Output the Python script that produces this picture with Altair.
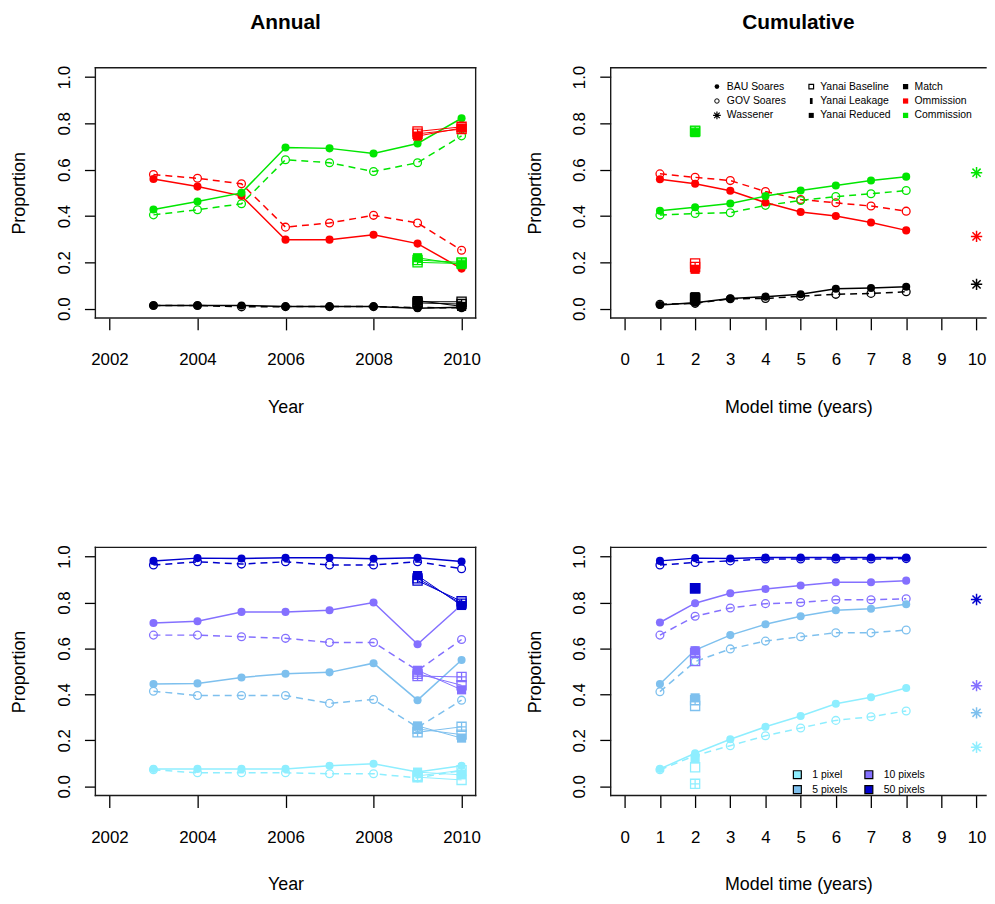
import altair as alt
import pandas as pd

FONT = "Liberation Sans"

# ---------------- data ----------------
years = [2003, 2004, 2005, 2006, 2007, 2008, 2009, 2010]
model_years = [1, 2, 3, 4, 5, 6, 7, 8]
yanai_annual_x = [2009, 2010]
yanai_cum_x = [2]
wassener_x = 10

acc_classes = ["Match", "Ommission", "Commission"]
acc_colors = ["#000000", "#FF0000", "#00E600"]
px_classes = ["1 pixel", "5 pixels", "10 pixels", "50 pixels"]
px_colors = ["#8EEEFF", "#7EC0EE", "#8470FF", "#0000CD"]
yanai_variants = ["Yanai Baseline", "Yanai Leakage", "Yanai Reduced"]

# Annual, accuracy classes (BAU Soares solid/filled, GOV Soares dashed/open)
ann_bau_match = [0.014, 0.014, 0.014, 0.009, 0.009, 0.009, 0.002, 0.006]
ann_gov_match = [0.014, 0.014, 0.008, 0.009, 0.009, 0.009, 0.005, 0.004]
ann_bau_omission = [0.560, 0.527, 0.487, 0.298, 0.298, 0.319, 0.281, 0.173]
ann_gov_omission = [0.579, 0.563, 0.539, 0.352, 0.370, 0.403, 0.370, 0.252]
ann_bau_commission = [0.428, 0.463, 0.500, 0.696, 0.692, 0.670, 0.713, 0.822]
ann_gov_commission = [0.405, 0.427, 0.453, 0.643, 0.630, 0.592, 0.630, 0.746]
# Yanai (Baseline, Leakage, Reduced) at 2009, 2010
ann_yanai_match = [[0.030, 0.030], [0.035, 0.010], [0.025, 0.020]]
ann_yanai_omission = [[0.765, 0.785], [0.745, 0.780], [0.755, 0.775]]
ann_yanai_commission = [[0.200, 0.195], [0.220, 0.190], [0.210, 0.200]]

# Cumulative, accuracy classes
cum_bau_match = [0.016, 0.026, 0.044, 0.052, 0.062, 0.086, 0.089, 0.095]
cum_gov_match = [0.019, 0.023, 0.043, 0.044, 0.054, 0.062, 0.066, 0.073]
cum_bau_omission = [0.559, 0.539, 0.509, 0.458, 0.417, 0.400, 0.372, 0.338]
cum_gov_omission = [0.582, 0.567, 0.553, 0.506, 0.471, 0.457, 0.443, 0.421]
cum_bau_commission = [0.423, 0.438, 0.454, 0.486, 0.510, 0.532, 0.553, 0.570]
cum_gov_commission = [0.404, 0.411, 0.414, 0.446, 0.467, 0.484, 0.496, 0.510]
cum_yanai_match = [0.045, 0.052, 0.040]
cum_yanai_omission = [0.195, 0.170, 0.180]
cum_yanai_commission = [0.768, 0.760, 0.765]
cum_wassener_acc = [0.105, 0.312, 0.587]

# Annual, pixel tolerance
ann_bau_px1 = [0.076, 0.076, 0.076, 0.076, 0.090, 0.098, 0.062, 0.090]
ann_gov_px1 = [0.072, 0.059, 0.059, 0.059, 0.055, 0.055, 0.037, 0.069]
ann_bau_px5 = [0.445, 0.448, 0.474, 0.490, 0.496, 0.536, 0.375, 0.550]
ann_gov_px5 = [0.414, 0.395, 0.395, 0.395, 0.361, 0.378, 0.256, 0.375]
ann_bau_px10 = [0.711, 0.718, 0.759, 0.759, 0.766, 0.800, 0.618, 0.790]
ann_gov_px10 = [0.658, 0.658, 0.651, 0.644, 0.626, 0.626, 0.504, 0.639]
ann_bau_px50 = [0.981, 0.993, 0.991, 0.995, 0.995, 0.990, 0.995, 0.978]
ann_gov_px50 = [0.963, 0.977, 0.967, 0.977, 0.963, 0.963, 0.977, 0.947]
ann_yanai_px1 = [[0.040, 0.028], [0.062, 0.050], [0.045, 0.070]]
ann_yanai_px5 = [[0.250, 0.225], [0.263, 0.210], [0.235, 0.259]]
ann_yanai_px10 = [[0.490, 0.440], [0.505, 0.420], [0.480, 0.476]]
ann_yanai_px50 = [[0.895, 0.805], [0.917, 0.787], [0.905, 0.795]]

# Cumulative, pixel tolerance
cum_bau_px1 = [0.076, 0.144, 0.205, 0.259, 0.306, 0.359, 0.388, 0.428]
cum_gov_px1 = [0.072, 0.134, 0.177, 0.220, 0.254, 0.287, 0.303, 0.328]
cum_bau_px5 = [0.445, 0.593, 0.658, 0.705, 0.740, 0.766, 0.773, 0.792]
cum_gov_px5 = [0.412, 0.543, 0.598, 0.632, 0.651, 0.668, 0.668, 0.680]
cum_bau_px10 = [0.713, 0.797, 0.840, 0.859, 0.874, 0.888, 0.888, 0.895]
cum_gov_px10 = [0.658, 0.740, 0.776, 0.795, 0.800, 0.812, 0.812, 0.816]
cum_bau_px50 = [0.981, 0.993, 0.991, 0.996, 0.996, 0.996, 0.996, 0.996]
cum_gov_px50 = [0.963, 0.974, 0.981, 0.989, 0.989, 0.989, 0.989, 0.991]
cum_yanai_px1 = [0.083, 0.119, 0.011]
cum_yanai_px5 = [0.350, 0.385, 0.375]
cum_yanai_px10 = [0.545, 0.590, 0.580]
cum_yanai_px50 = [0.862, 0.862, 0.862]
cum_wassener_px = [0.170, 0.320, 0.438, 0.813]

y_ticks = [0.0, 0.2, 0.4, 0.6, 0.8, 1.0]
year_ticks = [2002, 2004, 2006, 2008, 2010]
time_ticks = [0, 1, 2, 3, 4, 5, 6, 7, 8, 9, 10]

# ---------------- helpers ----------------
SQUARE_PLUS = "M-1,-1L1,-1L1,1L-1,1Z M0,-1L0,1 M-1,0L1,0"
ASTERISK = "M0,-1L0,1 M-1,0L1,0 M-0.72,-0.72L0.72,0.72 M-0.72,0.72L0.72,-0.72"
THIN_RECT = "M-0.45,-1L0.45,-1L0.45,1L-0.45,1Z"
variant_style = {
    "Yanai Baseline": dict(shape="square", filled=False),
    "Yanai Leakage": dict(shape="square", filled=True),
    "Yanai Reduced": dict(shape=SQUARE_PLUS, filled=False),
}
one = pd.DataFrame({"k": [0]})


def series_frame(xs, classes, lists):
    rows = []
    for c, vals in zip(classes, lists):
        for x, v in zip(xs, vals):
            rows.append({"x": x, "y": v, "cls": c})
    return pd.DataFrame(rows)


def yanai_frame(xs, classes, per_class):
    rows = []
    for c, variants in zip(classes, per_class):
        for vname, vals in zip(yanai_variants, variants):
            for x, v in zip(xs, vals):
                rows.append({"x": x, "y": v, "cls": c, "variant": vname})
    return pd.DataFrame(rows)


def legend_text(px, py, label):
    return alt.Chart(one).mark_text(font=FONT, fontSize=10.5, align="left", baseline="middle",
                                    color="black").encode(x=alt.value(px), y=alt.value(py),
                                                          text=alt.value(label))


def legend_symbol(px, py, **kw):
    style = dict(opacity=1)
    style.update(kw)
    return alt.Chart(one).mark_point(**style).encode(x=alt.value(px), y=alt.value(py))


def panel(width, height, x_domain, x_ticks, x_title, classes, colors, xs, bau, gov,
          yx, yanai, yanai_lines, wass, title, right_border, extra):
    xenc = alt.X("x:Q", scale=alt.Scale(domain=x_domain, nice=False, zero=False),
                 axis=alt.Axis(values=x_ticks, format="d", title=x_title, tickSize=12,
                               labelPadding=30, labelBaseline="middle", labelFlush=False,
                               labelOverlap=False, titleY=90, titleBaseline="middle"))
    yenc = alt.Y("y:Q", scale=alt.Scale(domain=[-0.04, 1.04], nice=False, zero=False),
                 axis=alt.Axis(values=y_ticks, format=".1f", title="Proportion", tickSize=11,
                               labelAngle=270, labelAlign="center", labelBaseline="middle",
                               labelPadding=20, labelFlush=False, labelOverlap=False,
                               titleAngle=270, titleX=-76, titleY=height / 2,
                               titleBaseline="middle", titleAlign="center"))
    color = alt.Color("cls:N", scale=alt.Scale(domain=classes, range=colors), legend=None)
    bau_df = series_frame(xs, classes, bau)
    gov_df = series_frame(xs, classes, gov)
    ydf = yanai_frame(yx, classes, yanai)
    wdf = pd.DataFrame({"x": [wassener_x] * len(classes), "y": wass, "cls": classes}) if wass else None

    layers = [
        alt.Chart(gov_df).mark_line(strokeWidth=1.5, strokeDash=[7, 5]).encode(x=xenc, y=yenc, color=color),
        alt.Chart(bau_df).mark_line(strokeWidth=1.5).encode(x=xenc, y=yenc, color=color),
    ]
    if yanai_lines:
        layers.append(alt.Chart(ydf).mark_line(strokeWidth=1).encode(
            x=xenc, y=yenc, color=color, detail="variant:N"))
    layers += [
        alt.Chart(gov_df).mark_point(shape="circle", filled=False, size=62, strokeWidth=1.3,
                                     opacity=1).encode(x=xenc, y=yenc, color=color),
        alt.Chart(bau_df).mark_point(shape="circle", filled=True, size=66, opacity=1).encode(
            x=xenc, y=yenc, color=color),
    ]
    for vname in yanai_variants:
        st = variant_style[vname]
        layers.append(alt.Chart(ydf[ydf["variant"] == vname]).mark_point(
            shape=st["shape"], filled=st["filled"], size=85, strokeWidth=1.3, opacity=1).encode(
            x=xenc, y=yenc, color=color))
    if wdf is not None:
        layers.append(alt.Chart(wdf).mark_point(shape=ASTERISK, filled=False, size=130,
                                                strokeWidth=1.5, opacity=1).encode(
            x=xenc, y=yenc, color=color))
    # frame (box) as rules
    rule = dict(color="#1a1a1a", strokeWidth=1.4, strokeCap="square")
    layers += [
        alt.Chart(one).mark_rule(**rule).encode(x=alt.value(0), x2=alt.value(width), y=alt.value(0)),
        alt.Chart(one).mark_rule(**rule).encode(x=alt.value(0), x2=alt.value(width), y=alt.value(height)),
        alt.Chart(one).mark_rule(**rule).encode(x=alt.value(0), y=alt.value(0), y2=alt.value(height)),
    ]
    if right_border:
        layers.append(alt.Chart(one).mark_rule(**rule).encode(
            x=alt.value(width), y=alt.value(0), y2=alt.value(height)))
    layers += extra
    ch = alt.layer(*layers).properties(width=width, height=height)
    if title:
        ch = ch.properties(title=alt.TitleParams(text=title, fontSize=21, fontWeight="bold", font=FONT,
                                                 anchor="middle", frame="group", offset=22,
                                                 baseline="middle", color="black"))
    return ch


# ---------------- legends ----------------
leg_top = []
c1s, c1t, c2s, c2t, c3s, c3t = 107, 117, 202, 211, 297, 306
rows_y = [19, 33.5, 48]
leg_top += [
    legend_symbol(c1s, rows_y[0], shape="circle", filled=True, size=22, color="black"),
    legend_text(c1t, rows_y[0], "BAU Soares"),
    legend_symbol(c1s, rows_y[1], shape="circle", filled=False, size=20, strokeWidth=1, color="black"),
    legend_text(c1t, rows_y[1], "GOV Soares"),
    legend_symbol(c1s, rows_y[2], shape=ASTERISK, filled=False, size=60, strokeWidth=1.2, color="black"),
    legend_text(c1t, rows_y[2], "Wassener"),
    legend_symbol(c2s, rows_y[0], shape="square", filled=False, size=22, strokeWidth=1.2, color="black"),
    legend_text(c2t, rows_y[0], "Yanai Baseline"),
    legend_symbol(c2s, rows_y[1], shape=THIN_RECT, filled=True, size=36, color="black"),
    legend_text(c2t, rows_y[1], "Yanai Leakage"),
    legend_symbol(c2s, rows_y[2], shape="square", filled=True, size=26, color="black"),
    legend_text(c2t, rows_y[2], "Yanai Reduced"),
]
for cls, colr, ry in zip(acc_classes, acc_colors, rows_y):
    leg_top += [legend_symbol(c3s, ry, shape="square", filled=True, size=28, color=colr),
                legend_text(c3t, ry, cls)]

leg_bot = []
for cls, colr, (sx, tx, ry) in zip(px_classes, px_colors,
                                   [(188, 203, 229), (188, 203, 244), (260, 275, 229), (260, 275, 244)]):
    leg_bot += [legend_symbol(sx, ry, shape="square", filled=True, size=64, fill=colr,
                              stroke="black", strokeWidth=1.2),
                legend_text(tx, ry, cls)]

W_L, W_R, H_T, H_B = 383, 378, 252, 250
year_dom = [2001.68, 2010.32]
time_dom = [-0.4, -0.4 + W_R / 35.43]

p1 = panel(W_L, H_T, year_dom, year_ticks, "Year", acc_classes, acc_colors, years,
           [ann_bau_match, ann_bau_omission, ann_bau_commission],
           [ann_gov_match, ann_gov_omission, ann_gov_commission],
           yanai_annual_x, [ann_yanai_match, ann_yanai_omission, ann_yanai_commission],
           True, None, "Annual", True, [])
p2 = panel(W_R, H_T, time_dom, time_ticks, "Model time (years)", acc_classes, acc_colors, model_years,
           [cum_bau_match, cum_bau_omission, cum_bau_commission],
           [cum_gov_match, cum_gov_omission, cum_gov_commission],
           yanai_cum_x, [[[v] for v in cum_yanai_match], [[v] for v in cum_yanai_omission],
                         [[v] for v in cum_yanai_commission]],
           False, cum_wassener_acc, "Cumulative", False, leg_top)
p3 = panel(W_L, H_B, year_dom, year_ticks, "Year", px_classes, px_colors, years,
           [ann_bau_px1, ann_bau_px5, ann_bau_px10, ann_bau_px50],
           [ann_gov_px1, ann_gov_px5, ann_gov_px10, ann_gov_px50],
           yanai_annual_x, [ann_yanai_px1, ann_yanai_px5, ann_yanai_px10, ann_yanai_px50],
           True, None, None, True, [])
p4 = panel(W_R, H_B, time_dom, time_ticks, "Model time (years)", px_classes, px_colors, model_years,
           [cum_bau_px1, cum_bau_px5, cum_bau_px10, cum_bau_px50],
           [cum_gov_px1, cum_gov_px5, cum_gov_px10, cum_gov_px50],
           yanai_cum_x, [[[v] for v in cum_yanai_px1], [[v] for v in cum_yanai_px5],
                         [[v] for v in cum_yanai_px10], [[v] for v in cum_yanai_px50]],
           False, cum_wassener_px, None, False, leg_bot)

chart = alt.concat(p1, p2, p3, p4, columns=2, spacing={"row": 231, "column": 136},
                   bounds="flush").resolve_scale(color="independent").properties(
    padding={"left": 3, "top": 0, "right": 0, "bottom": 0}
).configure_view(stroke=None).configure_axis(
    labelFont=FONT, titleFont=FONT, labelFontSize=17, titleFontSize=18, titleFontWeight="normal",
    labelColor="black", titleColor="black", tickColor="black", tickWidth=1.3, domain=False, grid=False
)

chart.save("out.html", embed_options={"renderer": "svg", "actions": False})
